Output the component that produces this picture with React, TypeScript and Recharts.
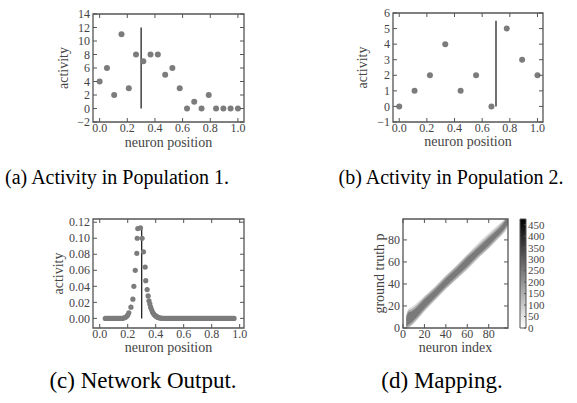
import React from "react";
import {
  ScatterChart,
  Scatter,
  XAxis,
  YAxis,
  ReferenceLine,
  ReferenceArea,
  ComposedChart,
  Area,
  BarChart,
  Bar,
} from "recharts";

const W = 577;
const H = 403;
const FRAME = "#555555";
const TEXT = "#444444";
const DOT = "#7c7c7c";
const SERIF = "'Liberation Serif', 'Times New Roman', serif";
const YW = 40;
const XH = 30;

// (a) population 1
const pop1X = [0, 0.053, 0.105, 0.158, 0.211, 0.263, 0.316, 0.368, 0.421, 0.474, 0.526, 0.579, 0.632, 0.684, 0.737, 0.789, 0.842, 0.895, 0.947, 1.0];
const pop1Y = [4, 6, 2, 11, 3, 8, 7, 8, 8, 5, 6, 3, 0, 1, 0, 2, 0, 0, 0, 0];
const pop1Marker = 0.3;
const pop1MarkerTop = 12;

// (b) population 2
const pop2X = [0, 0.111, 0.222, 0.333, 0.444, 0.556, 0.667, 0.778, 0.889, 1.0];
const pop2Y = [0, 1, 2, 4, 1, 2, 0, 5, 3, 2];
const pop2Marker = 0.7;
const pop2MarkerTop = 5.5;

// (c) network output
const outX = [
  0.04, 0.05, 0.06, 0.07, 0.08, 0.09, 0.1, 0.11, 0.12, 0.13, 0.14, 0.15, 0.16, 0.17, 0.18, 0.19, 0.2,
  0.208, 0.223, 0.237, 0.244, 0.254, 0.265, 0.268, 0.272, 0.291, 0.303, 0.313, 0.325, 0.329, 0.339, 0.346,
  0.352, 0.358, 0.364, 0.37, 0.377, 0.384, 0.39, 0.397, 0.404, 0.41, 0.417, 0.424, 0.43, 0.44,
  0.45, 0.46, 0.47, 0.48, 0.49, 0.5, 0.51, 0.52, 0.53, 0.54, 0.55, 0.56, 0.57, 0.58, 0.59, 0.6,
  0.61, 0.62, 0.63, 0.64, 0.65, 0.66, 0.67, 0.68, 0.69, 0.7, 0.71, 0.72, 0.73, 0.74, 0.75, 0.76,
  0.77, 0.78, 0.79, 0.8, 0.81, 0.82, 0.83, 0.84, 0.85, 0.86, 0.87, 0.88, 0.89, 0.9, 0.91, 0.92,
  0.93, 0.94, 0.95, 0.96,
];
const outY = [
  0, 0, 0, 0, 0, 0, 0, 0, 0, 0, 0, 0, 0, 0.0005, 0.001, 0.002, 0.004,
  0.007, 0.014, 0.024, 0.04, 0.06, 0.081, 0.1, 0.112, 0.113, 0.1, 0.083, 0.064, 0.047, 0.036, 0.028,
  0.022, 0.018, 0.014, 0.011, 0.008, 0.006, 0.0045, 0.0035, 0.0025, 0.0018, 0.0012, 0.0008, 0.0005, 0.0003,
  0, 0, 0, 0, 0, 0, 0, 0, 0, 0, 0, 0, 0, 0, 0, 0,
  0, 0, 0, 0, 0, 0, 0, 0, 0, 0, 0, 0, 0, 0, 0, 0,
  0, 0, 0, 0, 0, 0, 0, 0, 0, 0, 0, 0, 0, 0, 0, 0,
  0, 0, 0, 0,
];
const outMarker = 0.3;
const outMarkerTop = 0.113;

// (d) mapping: band of counts, neuron index vs ground truth
const mapX = [3, 5, 8, 12, 20, 30, 40, 50, 60, 70, 80, 88, 93, 96, 98];
const mapOuterLo = [0, 0, 2, 6, 15, 25, 35, 44, 53, 63, 72, 80, 85, 88, 92];
const mapOuterHi = [12, 17, 19, 22, 29, 38, 48, 57, 67, 77, 86, 93, 97, 99, 99];
const mapMidLo = [0, 1, 3, 7, 16, 26, 36, 45, 54, 64, 73, 81, 86, 90, 93];
const mapMidHi = [11, 16, 17, 20, 28, 37, 47, 56, 66, 75, 84, 91, 96, 99, 99];
const mapInnerLo = [1, 3, 5, 9, 18, 28, 38, 47, 56, 66, 75, 83, 88, 92, 95];
const mapInnerHi = [9, 14, 15, 18, 26, 35, 45, 54, 64, 73, 82, 89, 94, 98, 99];
const cbarMax = 475;
const cbarTicks = [0, 50, 100, 150, 200, 250, 300, 350, 400, 450];

const posTicks = [0, 0.2, 0.4, 0.6, 0.8, 1.0];
const pop1Ticks = [-2, 0, 2, 4, 6, 8, 10, 12, 14];
const pop2Ticks = [-1, 0, 1, 2, 3, 4, 5, 6];
const outTicks = [0, 0.02, 0.04, 0.06, 0.08, 0.1, 0.12];
const idxTicks = [0, 20, 40, 60, 80];

type Box = { L: number; R: number; T: number; B: number };

const boxA: Box = { L: 93, R: 244, T: 14, B: 122 };
const boxB: Box = { L: 393, R: 543, T: 13, B: 122 };
const boxC: Box = { L: 93, R: 244, T: 219, B: 328 };
const boxD: Box = { L: 403, R: 508, T: 219, B: 328 };
const boxCb: Box = { L: 520, R: 526, T: 219, B: 328 };

const minus = (s: string) => s.replace("-", "\u2212");
const f1 = (v: number) => minus(v.toFixed(1));
const f2 = (v: number) => minus(v.toFixed(2));
const f0 = (v: number) => minus(String(v));

const margin = (b: Box) => ({ top: b.T, left: b.L - YW, right: W - b.R, bottom: H - b.B - XH });

function XTick(props: any) {
  const { x, payload, box, fmt } = props;
  return (
    <g>
      <line x1={x} x2={x} y1={box.B} y2={box.B - 4} stroke={FRAME} />
      <line x1={x} x2={x} y1={box.T} y2={box.T + 4} stroke={FRAME} />
      <text x={x} y={box.B + 10} textAnchor="middle" fontFamily={SERIF} fontSize={12} fill={TEXT}>
        {fmt(payload.value)}
      </text>
    </g>
  );
}

function YTick(props: any) {
  const { y, payload, box, fmt } = props;
  return (
    <g>
      <line x1={box.L} x2={box.L + 4} y1={y} y2={y} stroke={FRAME} />
      <line x1={box.R} x2={box.R - 4} y1={y} y2={y} stroke={FRAME} />
      <text x={box.L - 3} y={y} dy="0.35em" textAnchor="end" fontFamily={SERIF} fontSize={12} fill={TEXT}>
        {fmt(payload.value)}
      </text>
    </g>
  );
}

function CbTick(props: any) {
  const { y, payload, box } = props;
  return (
    <g>
      <line x1={box.R} x2={box.R - 2} y1={y} y2={y} stroke={FRAME} />
      <text x={box.R + 2} y={y} dy="0.35em" textAnchor="start" fontFamily={SERIF} fontSize={11} fill={TEXT}>
        {payload.value}
      </text>
    </g>
  );
}

const xLabel = (value: string, offset: number) => ({
  value,
  position: "insideBottom" as const,
  offset,
  fill: TEXT,
  fontSize: 14,
  fontFamily: SERIF,
});

const yLabel = (value: string, offset: number) => ({
  value,
  angle: -90,
  position: "insideLeft" as const,
  offset,
  fill: TEXT,
  fontSize: 14,
  fontFamily: SERIF,
  style: { textAnchor: "middle" },
});

const layer: React.CSSProperties = { position: "absolute", left: 0, top: 0 };

function DotShape(r: number) {
  return (p: any) => <circle cx={p.cx} cy={p.cy} r={r} fill={DOT} />;
}

type PanelProps = {
  box: Box;
  xs: number[];
  ys: number[];
  xDom: [number, number];
  yDom: [number, number];
  yTicks: number[];
  yFmt: (v: number) => string;
  marker: number;
  markerTop: number;
  r: number;
  yLabOff: number;
  xLabOff: number;
};

function ActivityPanel(p: PanelProps) {
  const rows = p.xs.map((x, i) => ({ x, y: p.ys[i] }));
  return (
    <div style={layer}>
      <ScatterChart width={W} height={H} margin={margin(p.box)}>
        <XAxis
          type="number"
          dataKey="x"
          domain={p.xDom}
          ticks={posTicks}
          allowDataOverflow
          interval={0}
          height={XH}
          axisLine={false}
          tickLine={false}
          tickSize={0}
          tick={<XTick box={p.box} fmt={f1} />}
          label={xLabel("neuron position", p.xLabOff)}
        />
        <YAxis
          type="number"
          dataKey="y"
          domain={p.yDom}
          ticks={p.yTicks}
          allowDataOverflow
          interval={0}
          width={YW}
          axisLine={false}
          tickLine={false}
          tickSize={0}
          tick={<YTick box={p.box} fmt={p.yFmt} />}
          label={yLabel("activity", p.yLabOff)}
        />
        <ReferenceArea
          x1={p.xDom[0]}
          x2={p.xDom[1]}
          y1={p.yDom[0]}
          y2={p.yDom[1]}
          fill="none"
          stroke={FRAME}
          strokeWidth={1.3}
          ifOverflow="visible"
        />
        <ReferenceLine
          segment={[
            { x: p.marker, y: 0 },
            { x: p.marker, y: p.markerTop },
          ]}
          stroke="#111111"
          strokeWidth={1.2}
        />
        <Scatter data={rows} fill={DOT} shape={DotShape(p.r)} isAnimationActive={false} />
      </ScatterChart>
    </div>
  );
}

function MappingPanel() {
  const rows = mapX.map((x, i) => ({
    x,
    outer: [mapOuterLo[i], mapOuterHi[i]],
    mid: [mapMidLo[i], mapMidHi[i]],
    inner: [mapInnerLo[i], mapInnerHi[i]],
  }));
  const xDom: [number, number] = [0, 98];
  const yDom: [number, number] = [0, 99];
  return (
    <div style={layer}>
      <ComposedChart width={W} height={H} data={rows} margin={margin(boxD)}>
        <XAxis
          type="number"
          dataKey="x"
          domain={xDom}
          ticks={idxTicks}
          allowDataOverflow
          interval={0}
          height={XH}
          axisLine={false}
          tickLine={false}
          tickSize={0}
          tick={<XTick box={boxD} fmt={f0} />}
          label={xLabel("neuron index", 6)}
        />
        <YAxis
          type="number"
          domain={yDom}
          ticks={idxTicks}
          allowDataOverflow
          interval={0}
          width={YW}
          axisLine={false}
          tickLine={false}
          tickSize={0}
          tick={<YTick box={boxD} fmt={f0} />}
          label={yLabel("ground truth p", 16)}
        />
        <Area type="monotone" dataKey="outer" fill="#dddddd" fillOpacity={1} stroke="none" isAnimationActive={false} />
        <Area type="monotone" dataKey="mid" fill="#ababab" fillOpacity={1} stroke="none" isAnimationActive={false} />
        <Area type="monotone" dataKey="inner" fill="#7a7a7a" fillOpacity={1} stroke="none" isAnimationActive={false} />
        <ReferenceArea
          x1={xDom[0]}
          x2={xDom[1]}
          y1={yDom[0]}
          y2={yDom[1]}
          fill="none"
          stroke={FRAME}
          strokeWidth={1.3}
          ifOverflow="visible"
        />
      </ComposedChart>
    </div>
  );
}

function Colorbar() {
  const rows = [{ k: "counts", v: cbarMax }];
  return (
    <div style={{ ...layer, width: 546, height: H, overflow: "hidden" }}>
      <BarChart
        width={W}
        height={H}
        data={rows}
        margin={{ top: boxCb.T, left: boxCb.L, right: W - boxCb.R - YW, bottom: H - boxCb.B }}
        barCategoryGap={0}
      >
        <defs>
          <linearGradient id="cbGrad" x1="0" y1="0" x2="0" y2="1">
            <stop offset="0%" stopColor="#000000" />
            <stop offset="100%" stopColor="#ffffff" />
          </linearGradient>
        </defs>
        <XAxis type="category" dataKey="k" hide />
        <YAxis
          type="number"
          orientation="right"
          domain={[0, cbarMax]}
          ticks={cbarTicks}
          interval={0}
          width={YW}
          axisLine={false}
          tickLine={false}
          tickSize={0}
          tick={<CbTick box={boxCb} />}
        />
        <Bar dataKey="v" fill="url(#cbGrad)" stroke={FRAME} strokeWidth={1} isAnimationActive={false} />
      </BarChart>
    </div>
  );
}

const captions = [
  { text: "(a) Activity in Population 1.", x: 117, y: 184, size: 20 },
  { text: "(b) Activity in Population 2.", x: 451, y: 184, size: 20 },
  { text: "(c) Network Output.", x: 143, y: 388, size: 23 },
  { text: "(d) Mapping.", x: 442, y: 388, size: 23 },
];

export default function App() {
  return (
    <div style={{ position: "relative", width: W, height: H, overflow: "hidden", background: "#fff" }}>
      <style>{`body{margin:0}`}</style>
      <ActivityPanel
        box={boxA}
        xs={pop1X}
        ys={pop1Y}
        xDom={[-0.048, 1.044]}
        yDom={[-2, 14]}
        yTicks={pop1Ticks}
        yFmt={f0}
        marker={pop1Marker}
        markerTop={pop1MarkerTop}
        r={3}
        yLabOff={10}
        xLabOff={5}
      />
      <ActivityPanel
        box={boxB}
        xs={pop2X}
        ys={pop2Y}
        xDom={[-0.045, 1.04]}
        yDom={[-1, 6]}
        yTicks={pop2Ticks}
        yFmt={f0}
        marker={pop2Marker}
        markerTop={pop2MarkerTop}
        r={3}
        yLabOff={9}
        xLabOff={6}
      />
      <ActivityPanel
        box={boxC}
        xs={outX}
        ys={outY}
        xDom={[-0.048, 1.031]}
        yDom={[-0.012, 0.124]}
        yTicks={outTicks}
        yFmt={f2}
        marker={outMarker}
        markerTop={outMarkerTop}
        r={2.6}
        yLabOff={5}
        xLabOff={6}
      />
      <MappingPanel />
      <Colorbar />
      <svg width={W} height={H} style={layer}>
        {captions.map((c) => (
          <text key={c.text} x={c.x} y={c.y} textAnchor="middle" fontFamily={SERIF} fontSize={c.size} fill="#000">
            {c.text}
          </text>
        ))}
      </svg>
    </div>
  );
}
